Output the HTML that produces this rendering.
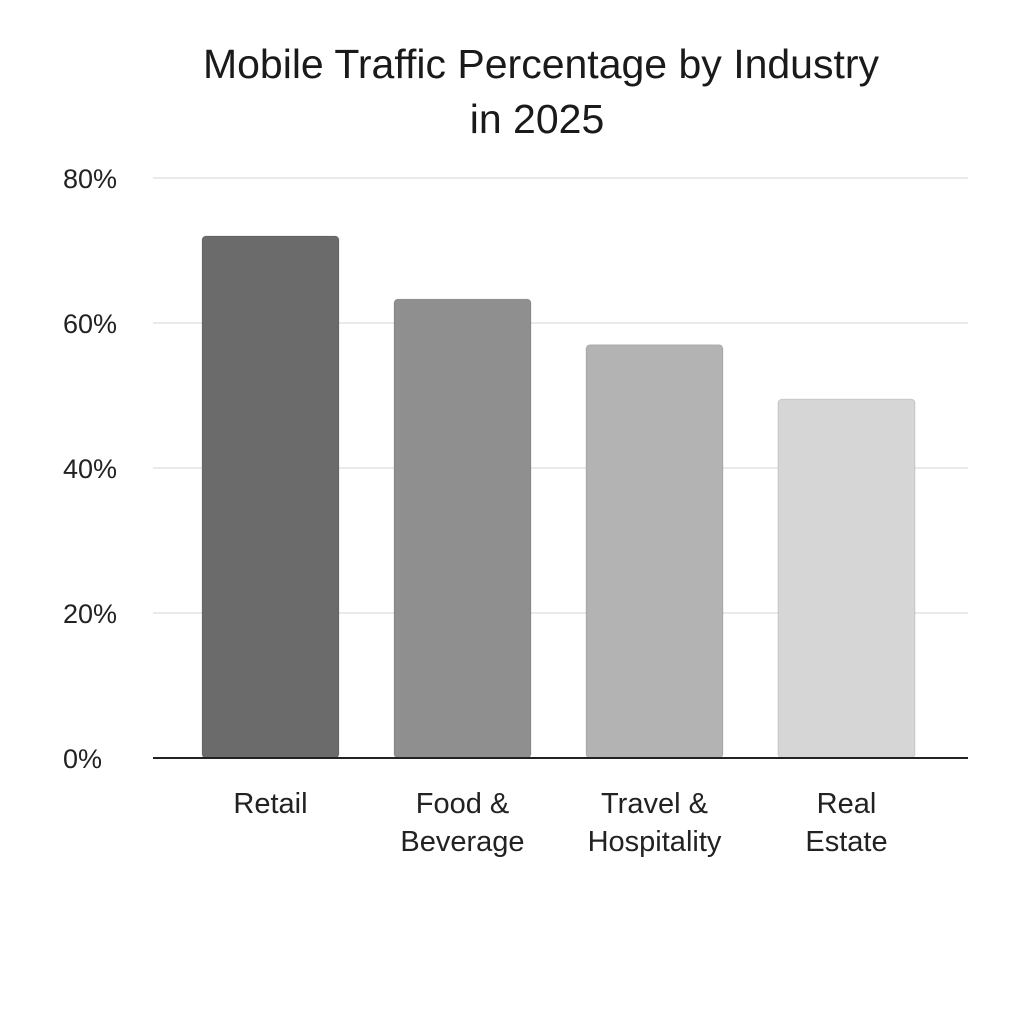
<!DOCTYPE html>
<html><head><meta charset="utf-8"><style>
html,body{margin:0;padding:0;background:#fff;}
svg{display:block;font-family:"Liberation Sans","DejaVu Sans",sans-serif;}
</style></head><body>
<svg id="chart" width="1024" height="1024" viewBox="0 0 1024 1024" xmlns="http://www.w3.org/2000/svg">
<rect width="1024" height="1024" fill="#fff"/>
<text x="541" y="78" text-anchor="middle" font-size="41" fill="#1a1a1a">Mobile Traffic Percentage by Industry</text>
<text x="537" y="133" text-anchor="middle" font-size="41" fill="#1a1a1a">in 2025</text>
<g id="grid"></g><g id="bars"></g><g id="labels"></g>
</svg>
<script>
const categories=[["Retail"],["Food &","Beverage"],["Travel &","Hospitality"],["Real","Estate"]];
const values=[72,63.3,57,49.5];
const ticks=[0,20,40,60,80];
const tickLabels=["0%","20%","40%","60%","80%"];
const colors=["#6b6b6b","#8f8f8f","#b3b3b3","#d6d6d6"];
const NS="http://www.w3.org/2000/svg";
const y0=758,pxPer=7.25,x0=202,step=192,bw=137;
function yScale(v){return y0-v*pxPer;}
function xScale(i){return x0+i*step;}
function mk(t,a,p){const e=document.createElementNS(NS,t);for(const k in a)e.setAttribute(k,a[k]);p.appendChild(e);return e;}
const grid=document.getElementById('grid'),bars=document.getElementById('bars'),labels=document.getElementById('labels');
ticks.forEach((t,i)=>{
  if(t>0){const l=mk('line',{x1:153,x2:968,y1:yScale(t),y2:yScale(t),stroke:'#e3e3e3','stroke-width':1.5},grid);
  
  }
  const tx=mk('text',{x:63,y:yScale(t)+10,'font-size':27,fill:'#222'},grid);
  tx.textContent=tickLabels[i];
  
  
});
values.forEach((v,i)=>{
  const r=mk('rect',{x:xScale(i),y:yScale(v),width:bw,height:y0-yScale(v),rx:4,fill:colors[i],stroke:'rgba(0,0,0,0.12)','stroke-width':1},bars);
  
  
  const cx=xScale(i)+bw/2;
  categories[i].forEach((s,j)=>{
    const t=mk('text',{x:cx,y:813+j*38,'text-anchor':'middle','font-size':29,fill:'#222'},labels);
    t.textContent=s;
    
    
  });
});
const base=mk('line',{x1:153,x2:968,y1:y0,y2:y0,stroke:'#222','stroke-width':2},bars);


</script>
</body></html>
